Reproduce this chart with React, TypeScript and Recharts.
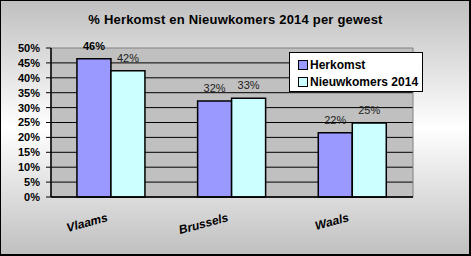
import { BarChart, Bar, XAxis, YAxis, CartesianGrid, LabelList, Legend, ReferenceArea } from 'recharts';

const categories = ['Vlaams', 'Brussels', 'Waals'];
const herkomst = [46.4, 32.2, 21.6];
const nieuwkomers = [42.4, 33.1, 24.8];
const yTicks = [0, 5, 10, 15, 20, 25, 30, 35, 40, 45, 50];
const boundaryTicks = [0, 1, 2, 3];

const FONT = '"Liberation Sans", Arial, sans-serif';
const C = { herkomst: '#9999FF', nieuwkomers: '#CCFFFF', plot: '#C0C0C0', border: '#808080' };

const data = categories.map((name, i) => ({ name, herkomst: herkomst[i], nieuwkomers: nieuwkomers[i] }));

const CategoryTick = (props: any) => {
  const { x, y, payload } = props;
  const tx = x - 3;
  const ty = y + 19;
  return (
    <text x={tx} y={ty} transform={`rotate(-15, ${tx}, ${ty})`} textAnchor="end"
      style={{ fontFamily: FONT, fontSize: 12, fontWeight: 700, fontStyle: 'italic', fill: '#000' }}>
      {payload.value}
    </text>
  );
};

// bar labels, first Herkomst label is bold in the original
const makeLabel = (boldIndex: number) => (props: any) => {
  const { x, y, width, value, index } = props;
  const bold = index === boldIndex;
  return (
    <text x={x + width / 2} y={y - 9} textAnchor="middle"
      style={{ fontFamily: FONT, fontSize: 11, fontWeight: bold ? 700 : 400, fill: bold ? '#000' : '#222' }}>
      {Math.round(value)}%
    </text>
  );
};

const LegendBox = () => (
  <div style={{ border: '1px solid #000', background: '#fff', width: 134, height: 40, boxSizing: 'border-box', padding: '3px 0 0 8px' }}>
    {[{ label: 'Herkomst', color: C.herkomst }, { label: 'Nieuwkomers 2014', color: C.nieuwkomers }].map((it) => (
      <div key={it.label} style={{ display: 'flex', alignItems: 'center', height: 17, fontFamily: FONT, fontSize: 12, fontWeight: 700 }}>
        <span style={{ width: 8, height: 8, border: '1px solid #000', background: it.color, marginRight: 2 }} />
        {it.label}
      </div>
    ))}
  </div>
);

export default function App() {
  return (
    <div style={{
      position: 'absolute', left: 0, top: 0, width: 471, height: 256, boxSizing: 'border-box',
      border: '1px solid #000', borderRightWidth: 2, borderBottomWidth: 2,
      background: 'linear-gradient(to bottom, #c0c0c0 0%, #ffffff 50%, #c0c0c0 100%)',
    }}>
      <div style={{ position: 'absolute', left: 0, width: 469, top: 11, textAlign: 'center', fontFamily: FONT, fontSize: 13, fontWeight: 700, letterSpacing: 0.2 }}>
        % Herkomst en Nieuwkomers 2014 per gewest
      </div>
      <BarChart width={468} height={253} data={data} margin={{ top: 47, right: 56, left: 10, bottom: 27 }}
        barCategoryGap="21.5%" barGap={0}>
        <CartesianGrid xAxisId="cat" yAxisId="y" vertical={false} stroke="#000" fill={C.plot} fillOpacity={1}
          horizontalValues={yTicks.slice(0, -1)} />
        <ReferenceArea xAxisId="cat" yAxisId="y" y1={0} y2={50} fill="none" stroke={C.border} strokeWidth={1} ifOverflow="visible" />
        <XAxis xAxisId="b" type="number" dataKey="x" domain={[0, 3]} ticks={boundaryTicks} allowDataOverflow
          height={5} tick={false} tickSize={4} tickLine={{ stroke: '#000' }} axisLine={{ stroke: '#000', strokeWidth: 1.5 }} />
        <XAxis xAxisId="cat" dataKey="name" height={25} tickLine={false} axisLine={false} tickSize={0} tickMargin={0}
          tick={<CategoryTick />} interval={0} />
        <YAxis yAxisId="y" domain={[0, 50]} ticks={yTicks} width={40} tickSize={5} tickMargin={6}
          tickFormatter={(v: number) => `${v}%`} axisLine={{ stroke: '#000', strokeWidth: 1.5 }} tickLine={{ stroke: '#000' }}
          tick={{ fontFamily: FONT, fontSize: 11, fontWeight: 700, fill: '#000' }} interval={0} />
        <Legend layout="vertical" align="center" verticalAlign="middle" content={<LegendBox />}
          wrapperStyle={{ left: 288, top: 51, width: 134, height: 40 }} />
        <Bar xAxisId="cat" yAxisId="y" dataKey="herkomst" name="Herkomst" fill={C.herkomst} stroke="#000" strokeWidth={1.5} isAnimationActive={false}>
          <LabelList dataKey="herkomst" content={makeLabel(0)} />
        </Bar>
        <Bar xAxisId="cat" yAxisId="y" dataKey="nieuwkomers" name="Nieuwkomers 2014" fill={C.nieuwkomers} stroke="#000" strokeWidth={1.5} isAnimationActive={false}>
          <LabelList dataKey="nieuwkomers" content={makeLabel(-1)} />
        </Bar>
      </BarChart>
    </div>
  );
}
